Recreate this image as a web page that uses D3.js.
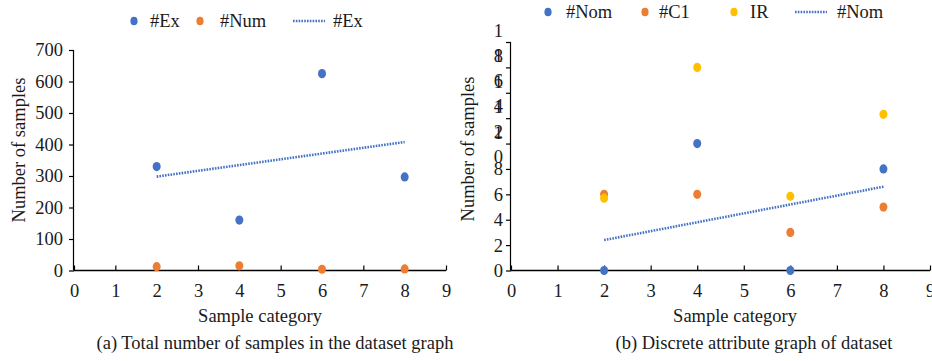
<!DOCTYPE html>
<html><head><meta charset="utf-8">
<script src="https://cdn.jsdelivr.net/npm/d3@7"></script>
<style>body{margin:0;background:#fff}svg{display:block}svg text{font-family:'Liberation Serif','Times New Roman','DejaVu Serif',serif !important;fill:#1a1a1a}</style>
</head><body>
<script>
const xCats = [2, 4, 6, 8];
const exVals = [330, 160, 625, 297];
const numVals = [12, 15, 4, 5];
const nomVals = [0, 10, 0, 8];
const c1Vals = [6, 6, 3, 5];
const irVals = [5.7, 16, 5.85, 12.3];
const xTicks = [0,1,2,3,4,5,6,7,8,9];
const yTicksA = [0,100,200,300,400,500,600,700];
const yTicksB = [0,2,4,6,8,10,12,14,16,18];
const BLUE="#4472C4", ORANGE="#ED7D31", YELLOW="#FFC000";
const FONT="'Liberation Serif','Times New Roman','DejaVu Serif',serif";
const FS=18.5;

const svg = d3.select("body").append("svg").attr("width",932).attr("height",361);

function regress(xs, ys){
  const mx=d3.mean(xs), my=d3.mean(ys);
  const s=d3.sum(xs,(x,i)=>(x-mx)*(ys[i]-my))/d3.sum(xs,x=>(x-mx)*(x-mx));
  return x=>my+s*(x-mx);
}

function panel(o){
  const g=svg.append("g");
  const x=d3.scaleLinear().domain([0,9]).range(o.xr);
  const y=d3.scaleLinear().domain(o.yd).range(o.yr);
  // y axis
  const ya=g.append("g").attr("transform",`translate(${o.xr[0]},0)`)
    .call(d3.axisLeft(y).tickValues(o.yTicks).tickSize(5).tickPadding(o.ypad).tickFormat(d=>d));
  ya.attr("font-family",FONT);
  ya.select(".domain").attr("stroke","#000").attr("stroke-width",1.2).attr("d",`M-0.5,${o.yr[0]}V${o.yr[1]}`);
  ya.selectAll(".tick line").attr("stroke","#000").attr("stroke-width",1.2);
  ya.selectAll("text").attr("font-size",FS);
  if(o.wrap){
    ya.selectAll(".tick text").each(function(d){
      const s=String(d);
      if(s.length>1){
        const t=d3.select(this).text(null).attr("dy",null);
        const xx=-(5+o.ypad);
        t.append("tspan").attr("x",xx).attr("y",-5.5).text(s[0]);
        t.append("tspan").attr("x",xx).attr("y",19).text(s[1]);
      }
    });
  }
  // x axis
  const xa=g.append("g").attr("transform",`translate(0,${o.yr[0]})`)
    .call(d3.axisBottom(x).tickValues(xTicks).tickSize(-5).tickPadding(13).tickFormat(d=>d));
  xa.attr("font-family",FONT);
  xa.select(".domain").attr("stroke","#000").attr("stroke-width",1.5).attr("d",`M${o.xr[0]},0H${o.xr[1]}`);
  xa.selectAll(".tick line").attr("stroke","#000").attr("stroke-width",1.2);
  xa.selectAll("text").attr("font-size",FS);
  // trendline
  const f=regress(xCats,o.trend);
  g.append("line").attr("x1",x(xCats[0])).attr("y1",y(f(xCats[0])))
    .attr("x2",x(xCats[3])).attr("y2",y(f(xCats[3])))
    .attr("stroke",BLUE).attr("stroke-width",2.6).attr("stroke-dasharray","1.6,1.2");
  // points
  o.series.forEach(s=>{
    g.selectAll(null).data(s.v).enter().append("ellipse")
      .attr("cx",(d,i)=>x(xCats[i])).attr("cy",d=>y(d)).attr("rx",4).attr("ry",4.6).attr("fill",s.c);
  });
  // titles
  g.append("text").attr("transform",`translate(${o.ylx},${o.yly}) rotate(-90)`).attr("text-anchor","middle")
    .attr("font-size",FS).text("Number of samples");
  g.append("text").attr("x",o.xlx).attr("y",321.5).attr("text-anchor","middle").attr("font-size",FS).text("Sample category");
  g.append("text").attr("x",o.capx).attr("y",348.5).attr("text-anchor","middle").attr("font-size",FS).text(o.cap);
  // legend
  o.legend.forEach(l=>{
    if(l.line){
      g.append("line").attr("x1",l.x).attr("x2",l.x+32).attr("y1",l.y).attr("y2",l.y)
        .attr("stroke",BLUE).attr("stroke-width",2.6).attr("stroke-dasharray","1.6,1.2");
    } else {
      g.append("ellipse").attr("cx",l.x).attr("cy",l.y).attr("rx",3.6).attr("ry",4.3).attr("fill",l.c);
    }
    g.append("text").attr("x",l.tx).attr("y",l.y+6).attr("font-size",FS).text(l.t);
  });
}

panel({xr:[74,446], yd:[0,700], yr:[270.5,50], yTicks:yTicksA, trend:exVals, ypad:6,
  series:[{v:exVals,c:BLUE},{v:numVals,c:ORANGE}],
  ylx:25, yly:150, xlx:260, capx:275, cap:"(a) Total number of samples in the dataset graph",
  legend:[{x:134,y:21,c:BLUE,t:"#Ex",tx:150},{x:200,y:21,c:ORANGE,t:"#Num",tx:220},{x:293,y:21,line:true,t:"#Ex",tx:333}]});

panel({xr:[511,930], yd:[0,18], yr:[270.5,42], yTicks:yTicksB, trend:nomVals, wrap:true, ypad:3,
  series:[{v:nomVals,c:BLUE},{v:c1Vals,c:ORANGE},{v:irVals,c:YELLOW}],
  ylx:474, yly:149, xlx:735, capx:754, cap:"(b) Discrete attribute graph of dataset",
  legend:[{x:548,y:12,c:BLUE,t:"#Nom",tx:566},{x:645,y:12,c:ORANGE,t:"#C1",tx:659},{x:734,y:12,c:YELLOW,t:"IR",tx:750},{x:795,y:12,line:true,t:"#Nom",tx:837}]});
</script>
</body></html>
